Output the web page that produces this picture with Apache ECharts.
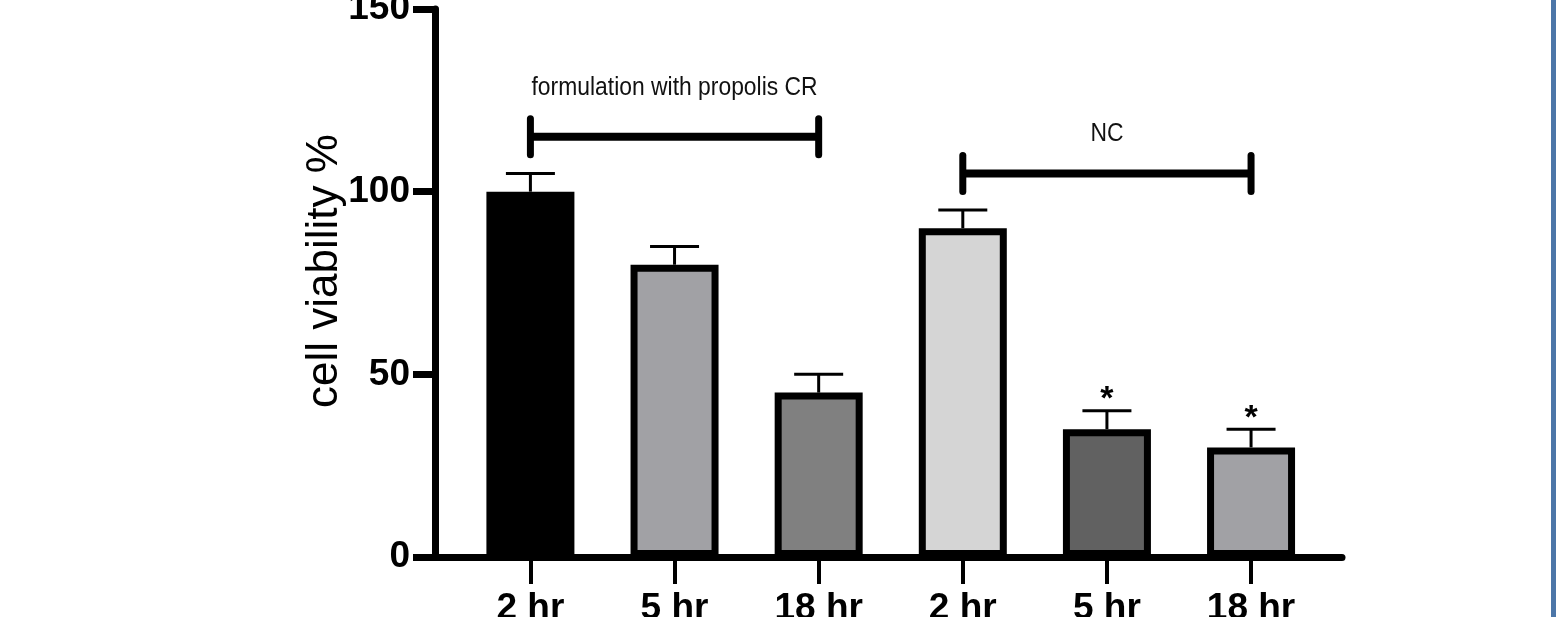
<!DOCTYPE html>
<html>
<head>
<meta charset="utf-8">
<script src="https://cdn.jsdelivr.net/npm/echarts@6/dist/echarts.min.js"></script>
<style>
  html, body { margin: 0; padding: 0; background: #fff; }
  #chart { width: 1560px; height: 617px; }
</style>
</head>
<body>
<div id="chart"></div>
<script>
// data
const timeLabels = ['2 hr', '5 hr', '18 hr', '2 hr', '5 hr', '18 hr']
const viability = [100, 80, 45, 90, 35, 30]
const errors = [5, 5, 5, 5, 5, 5]
const significant = [false, false, false, false, true, true]

const groupNames = ['formulation with propolis CR', 'NC']
const groupFrom = [0, 3]
const groupTo = [2, 5]
const groupLevel = [115, 105]
const groupLabelLevel = [128.4, 115.8]

const yTicks = [0, 50, 100, 150]

const barColors = ['#000000', '#a1a1a5', '#808080', '#d5d5d5', '#616161', '#a1a1a5']
const font = "'Liberation Sans', Arial, sans-serif"

const chart = echarts.init(document.getElementById('chart'))

const idx = timeLabels.map((_, i) => i)

const option = {
  backgroundColor: '#ffffff',
  animation: false,
  grid: { left: 435, right: 218, top: 9, bottom: 60, outerBoundsMode: 'none', containLabel: false },
  xAxis: {
    type: 'value',
    min: -0.662,
    max: 5.631,
    splitLine: { show: false },
    axisLine: { show: true, onZero: false, lineStyle: { color: '#000', width: 7 } },
    axisTick: {
      show: true,
      customValues: idx,
      length: 27,
      lineStyle: { color: '#000', width: 4 }
    },
    axisLabel: {
      customValues: idx,
      margin: 33,
      color: '#000',
      fontFamily: font,
      fontWeight: 'bold',
      fontSize: 37,
      formatter: (v) => timeLabels[Math.round(v)]
    }
  },
  yAxis: {
    type: 'value',
    min: 0,
    max: 150,
    interval: 50,
    splitLine: { show: false },
    axisLine: { show: true, onZero: false, lineStyle: { color: '#000', width: 7 } },
    axisTick: { show: true, length: 22, lineStyle: { color: '#000', width: 7 } },
    axisLabel: {
      margin: 25,
      color: '#000',
      fontFamily: font,
      fontWeight: 'bold',
      fontSize: 37,
      formatter: (v) => (yTicks.includes(v) ? String(v) : '')
    },
    name: 'cell viability %',
    nameLocation: 'middle',
    nameRotate: 90,
    nameGap: 88,
    nameMoveOverlap: false,
    nameTextStyle: {
      color: '#000',
      fontFamily: font,
      fontSize: 44,
      padding: [0, 0, 0, 24]
    }
  },
  graphic: [
    {
      type: 'rect',
      left: 1551,
      top: 0,
      shape: { width: 5, height: 617 },
      style: { fill: '#4c76a8' }
    }
  ],
  series: [
    {
      type: 'bar',
      barWidth: 88,
      data: viability.map((v, i) => ({
        value: [i, v],
        itemStyle: { color: barColors[i] }
      })),
      itemStyle: { borderColor: '#000', borderWidth: 7 }
    },
    {
      // error bars + significance stars
      type: 'custom',
      clip: false,
      data: viability.map((v, i) => [i, v, errors[i], significant[i] ? 1 : 0]),
      renderItem: (params, api) => {
        const x = api.value(0)
        const mean = api.value(1)
        const top = mean + api.value(2)
        const p0 = api.coord([x, mean])
        const p1 = api.coord([x, top])
        const half = 24.5
        const children = [
          {
            type: 'line',
            shape: { x1: p0[0], y1: p0[1], x2: p1[0], y2: p1[1] },
            style: { stroke: '#000', lineWidth: 3 }
          },
          {
            type: 'line',
            shape: { x1: p1[0] - half, y1: p1[1], x2: p1[0] + half, y2: p1[1] },
            style: { stroke: '#000', lineWidth: 3 }
          }
        ]
        if (api.value(3)) {
          children.push({
            type: 'text',
            style: {
              text: '*',
              x: p1[0],
              y: p1[1] - 11,
              align: 'center',
              verticalAlign: 'middle',
              fill: '#000',
              fontFamily: font,
              fontWeight: 'bold',
              fontSize: 34
            }
          })
        }
        return { type: 'group', children }
      },
      z: 3
    },
    {
      // group brackets
      type: 'custom',
      clip: false,
      data: groupNames.map((n, i) => [groupFrom[i], groupTo[i], groupLevel[i], groupLabelLevel[i]]),
      renderItem: (params, api) => {
        const a = api.coord([api.value(0), api.value(2)])
        const b = api.coord([api.value(1), api.value(2)])
        const t = api.coord([(api.value(0) + api.value(1)) / 2, api.value(3)])
        const cap = 18
        return {
          type: 'group',
          children: [
            {
              type: 'line',
              shape: { x1: a[0], y1: a[1], x2: b[0], y2: b[1] },
              style: { stroke: '#000', lineWidth: 8 }
            },
            {
              type: 'line',
              shape: { x1: a[0], y1: a[1] - cap, x2: a[0], y2: a[1] + cap },
              style: { stroke: '#000', lineWidth: 7, lineCap: 'round' }
            },
            {
              type: 'line',
              shape: { x1: b[0], y1: b[1] - cap, x2: b[0], y2: b[1] + cap },
              style: { stroke: '#000', lineWidth: 7, lineCap: 'round' }
            },
            {
              type: 'text',
              x: t[0],
              y: t[1],
              scaleX: 0.88,
              style: {
                text: groupNames[params.dataIndex],
                x: 0,
                y: 0,
                align: 'center',
                verticalAlign: 'middle',
                fill: '#111',
                fontFamily: font,
                fontSize: 26
              }
            }
          ]
        }
      },
      z: 3
    }
  ]
}

chart.setOption(option)
window.addEventListener('resize', () => chart.resize())
</script>
</body>
</html>
